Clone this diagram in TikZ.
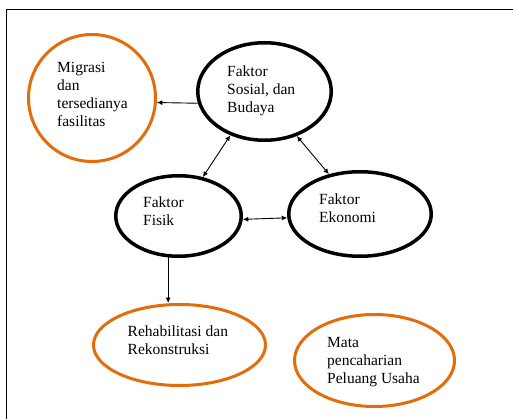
\documentclass[tikz,border=0pt]{standalone}
\usepackage{fontspec}
\setmainfont{Liberation Serif}
\usetikzlibrary{shapes.geometric,arrows.meta}
\definecolor{borange}{RGB}{228,108,10}
\begin{document}
\begin{tikzpicture}[x=1pt,y=-1pt,
  blk/.style={ellipse,draw=black,line width=3.5pt,inner sep=0pt},
  org/.style={ellipse,draw=borange,line width=3pt,inner sep=0pt},
  lbl/.style={anchor=base west,align=left,font=\fontsize{15.5}{18.2}\selectfont,inner sep=0pt},
  tip/.style={line width=0.9pt},
  arr/.style={tip,-{Latex[length=5.5pt,width=5pt]}},
  darr/.style={tip,{Latex[length=5.5pt,width=5pt]}-{Latex[length=5.5pt,width=5pt]}}]
\useasboundingbox (0,0) rectangle (513,419);
\draw[line width=1pt] (6.5,419) -- (6.5,9.5) -- (513,9.5);

\node[org,minimum width=127pt,minimum height=127pt] (mig) at (92,98) {};
\node[blk,minimum width=133.5pt,minimum height=97.5pt] (sos) at (264.5,91.5) {};
\node[blk,minimum width=125.5pt,minimum height=80.5pt] (fis) at (178.5,216) {};
\node[blk,minimum width=142.5pt,minimum height=84.5pt] (eko) at (360,214) {};
\node[org,minimum width=172pt,minimum height=81pt] (reh) at (179.5,345) {};
\node[org,minimum width=160pt,minimum height=92pt] (mat) at (374.5,360.5) {};

% anchor = baseline of the last line
\node[lbl] (tmig) at (57,127) {Migrasi\\dan\\tersedianya\\fasilitas};
\node[lbl] (tsos) at (227,112.5) {Faktor\\Sosial, dan\\Budaya};
\node[lbl] (tfis) at (143,225.5) {Faktor\\Fisik};
\node[lbl] (teko) at (319,222.5) {Faktor\\Ekonomi};
\node[lbl] (treh) at (127.5,354.5) {Rehabilitasi dan\\Rekonstruksi};
\node[lbl] (tmat) at (327,383.5) {Mata\\pencaharian\\Peluang Usaha};

\draw[arr] (sos.190) -- (mig.-4.5);
\draw[darr] (fis.58.5) -- (sos.-128.6);
\draw[darr] (sos.-54.2) -- (eko.128);
\draw[darr] (fis.-3) -- (eko.183);
\draw[arr] (fis.-104) -- (fis.-104 |- reh.north);
\end{tikzpicture}
\end{document}
